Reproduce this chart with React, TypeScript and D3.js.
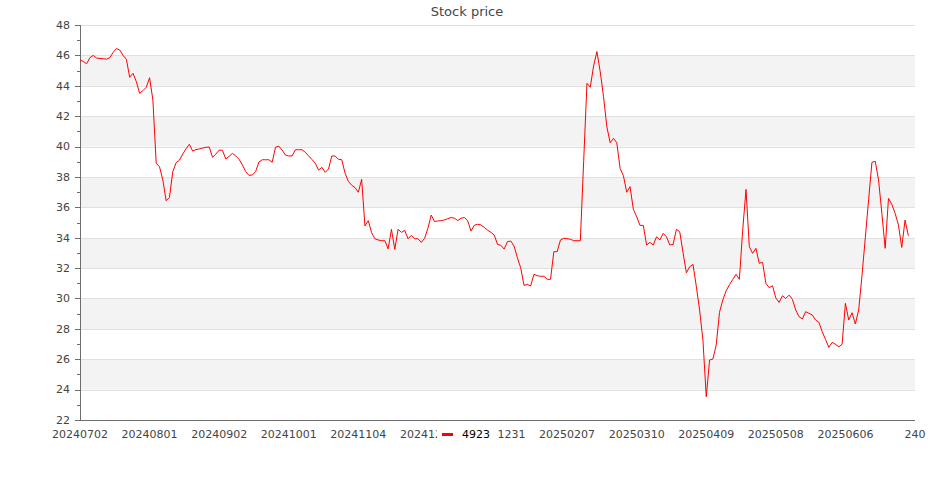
import { useEffect, useRef } from 'react';
import * as d3 from 'd3';

// closing prices, one per trading day starting 20240702
const prices: number[] = [
  45.7, 45.6, 45.45, 45.85, 46.0, 45.82, 45.8, 45.78, 45.75, 45.85,
  46.2, 46.45, 46.35, 46.0, 45.74, 44.56, 44.82, 44.27, 43.5, 43.68,
  43.9, 44.53, 43.06, 38.9, 38.67, 37.8, 36.43, 36.65, 38.34, 38.93,
  39.1, 39.5, 39.85, 40.15, 39.7, 39.8, 39.84, 39.9, 39.95, 39.97,
  39.29, 39.5, 39.77, 39.75, 39.18, 39.35, 39.55, 39.38, 39.16, 38.8,
  38.35, 38.1, 38.13, 38.35, 38.98, 39.13, 39.13, 39.13, 38.96, 39.95,
  40.03, 39.77, 39.44, 39.38, 39.38, 39.79, 39.79, 39.79, 39.62, 39.38,
  39.15, 38.9, 38.45, 38.63, 38.3, 38.52, 39.38, 39.38, 39.16, 39.13,
  38.24, 37.7, 37.45, 37.3, 36.99, 37.84, 34.77, 35.12, 34.33, 33.93,
  33.85, 33.8, 33.8, 33.27, 34.55, 33.23, 34.55, 34.35, 34.48, 33.93,
  34.15, 33.93, 33.93, 33.69, 33.96, 34.62, 35.49, 35.06, 35.1, 35.12,
  35.17, 35.25, 35.33, 35.28, 35.13, 35.28, 35.33, 35.12, 34.44, 34.82,
  34.88, 34.84, 34.68, 34.5, 34.35, 34.18, 33.56, 33.5, 33.25, 33.74,
  33.78, 33.45, 32.68, 32.02, 30.86, 30.93, 30.82, 31.59, 31.5, 31.46,
  31.46, 31.26, 31.26, 33.08, 33.08, 33.85, 33.96, 33.93, 33.9, 33.8,
  33.8, 33.8, 39.0, 44.16, 43.9, 45.3, 46.25, 44.93, 43.28, 41.3,
  40.25, 40.54, 40.25, 38.56, 38.08, 36.99, 37.36, 35.87, 35.38, 34.81,
  34.81, 33.52, 33.69, 33.52, 34.06, 33.85, 34.28, 34.06, 33.52, 33.56,
  34.55, 34.39, 33.01, 31.69, 32.09, 32.24, 30.8, 29.24, 27.26, 23.53,
  25.95, 26.01, 26.93, 29.09, 29.9, 30.5, 30.9, 31.25, 31.59, 31.26,
  34.5, 37.18, 33.41, 32.97, 33.3, 32.31, 32.38, 30.99, 30.71, 30.84,
  30.03, 29.74, 30.18, 30.0, 30.22, 29.94, 29.24, 28.8, 28.65, 29.13,
  29.02, 28.91, 28.58, 28.43, 27.81, 27.3, 26.78, 27.11, 26.98, 26.82,
  26.98, 29.68, 28.58, 29.06, 28.32, 29.24, 31.5, 34.0, 36.5, 38.96,
  39.03, 37.8, 35.6, 33.3, 36.59, 36.2, 35.6, 34.84, 33.36, 35.16,
  34.13,
];

// category axis labels, shown every 21 days
const xTickLabels = [
  '20240702', '20240801', '20240902', '20241001', '20241104', '20241202', '20241231',
  '20250207', '20250310', '20250409', '20250508', '20250606', '240',
];
const labelInterval = 21;
const categoryCount = 253;

const yTicks = [22, 24, 26, 28, 30, 32, 34, 36, 38, 40, 42, 44, 46, 48];
const seriesName = '4923';
const chartTitle = 'Stock price';

export default function App() {
  const svgRef = useRef<SVGSVGElement>(null);

  useEffect(() => {
    if (!svgRef.current) return;
    const svg = d3.select(svgRef.current);
    svg.selectAll('*').remove();

    const width = 935;
    const height = 500;
    const left = 80, right = 915, top = 25, bottom = 420;
    const font = 'DejaVu Sans';

    const x = d3.scaleLinear().domain([0, categoryCount - 1]).range([left, right]);
    const y = d3.scaleLinear().domain([22, 48]).range([bottom, top]);

    svg.attr('width', width).attr('height', height);
    svg.append('rect').attr('width', width).attr('height', height).attr('fill', '#fff');

    // split areas: every other band is grey
    const bands = d3.pairs(yTicks);
    svg.append('g')
      .selectAll('rect')
      .data(bands)
      .join('rect')
      .attr('x', left)
      .attr('width', right - left)
      .attr('y', d => y(d[1]))
      .attr('height', d => y(d[0]) - y(d[1]))
      .attr('fill', (d, i) => (i % 2 === 1 ? '#f3f3f3' : '#ffffff'));

    // grid lines
    svg.append('g')
      .selectAll('line')
      .data(yTicks.slice(1))
      .join('line')
      .attr('x1', left)
      .attr('x2', right)
      .attr('y1', d => Math.round(y(d)) + 0.5)
      .attr('y2', d => Math.round(y(d)) + 0.5)
      .attr('stroke', '#e0e0e0')
      .attr('stroke-width', 1);

    // y axis with minor ticks
    const yAxis = svg.append('g');
    yAxis.append('line')
      .attr('x1', left + 0.5).attr('x2', left + 0.5)
      .attr('y1', top).attr('y2', bottom)
      .attr('stroke', '#6e6e6e');
    const minor = d3.range(23, 48, 2);
    yAxis.selectAll('.minor')
      .data(minor)
      .join('line')
      .attr('class', 'minor')
      .attr('x1', left - 3).attr('x2', left)
      .attr('y1', d => Math.round(y(d)) + 0.5)
      .attr('y2', d => Math.round(y(d)) + 0.5)
      .attr('stroke', '#6e6e6e');
    yAxis.selectAll('.major')
      .data(yTicks)
      .join('line')
      .attr('class', 'major')
      .attr('x1', left - 5).attr('x2', left)
      .attr('y1', d => Math.round(y(d)) + 0.5)
      .attr('y2', d => Math.round(y(d)) + 0.5)
      .attr('stroke', '#6e6e6e');
    yAxis.selectAll('text')
      .data(yTicks)
      .join('text')
      .attr('x', left - 10)
      .attr('y', d => y(d))
      .attr('dy', '0.35em')
      .attr('text-anchor', 'end')
      .attr('font-family', font)
      .attr('font-size', 11)
      .attr('fill', '#444')
      .text(d => String(d));

    // x axis
    svg.append('line')
      .attr('x1', left).attr('x2', right)
      .attr('y1', bottom + 0.5).attr('y2', bottom + 0.5)
      .attr('stroke', '#6e6e6e');
    svg.append('g')
      .selectAll('text')
      .data(xTickLabels)
      .join('text')
      .attr('x', (d, i) => x(i * labelInterval))
      .attr('y', bottom + 18)
      .attr('text-anchor', 'middle')
      .attr('font-family', font)
      .attr('font-size', 11)
      .attr('fill', '#444')
      .text(d => d);

    // price line
    const line = d3.line<number>()
      .x((d, i) => x(i))
      .y(d => y(d));
    svg.append('path')
      .datum(prices)
      .attr('d', line)
      .attr('fill', 'none')
      .attr('stroke', '#ff0000')
      .attr('stroke-width', 1)
      .attr('stroke-linejoin', 'miter');

    // title
    svg.append('text')
      .attr('x', 467)
      .attr('y', 16)
      .attr('text-anchor', 'middle')
      .attr('font-family', font)
      .attr('font-size', 13)
      .attr('fill', '#464646')
      .text(chartTitle);

    // legend (sits on top of the axis labels)
    const legend = svg.append('g').attr('transform', 'translate(437, 424)');
    legend.append('rect').attr('width', 60).attr('height', 22).attr('fill', '#fff');
    legend.append('line')
      .attr('x1', 5).attr('x2', 16)
      .attr('y1', 10.5).attr('y2', 10.5)
      .attr('stroke', '#ff0000')
      .attr('stroke-width', 3);
    legend.append('text')
      .attr('x', 25)
      .attr('y', 13.5)
      .attr('font-family', font)
      .attr('font-size', 11)
      .attr('fill', '#000')
      .text(seriesName);
  }, []);

  return (
    <svg ref={svgRef} style={{ position: 'absolute', left: 0, top: 0, display: 'block' }} />
  );
}
